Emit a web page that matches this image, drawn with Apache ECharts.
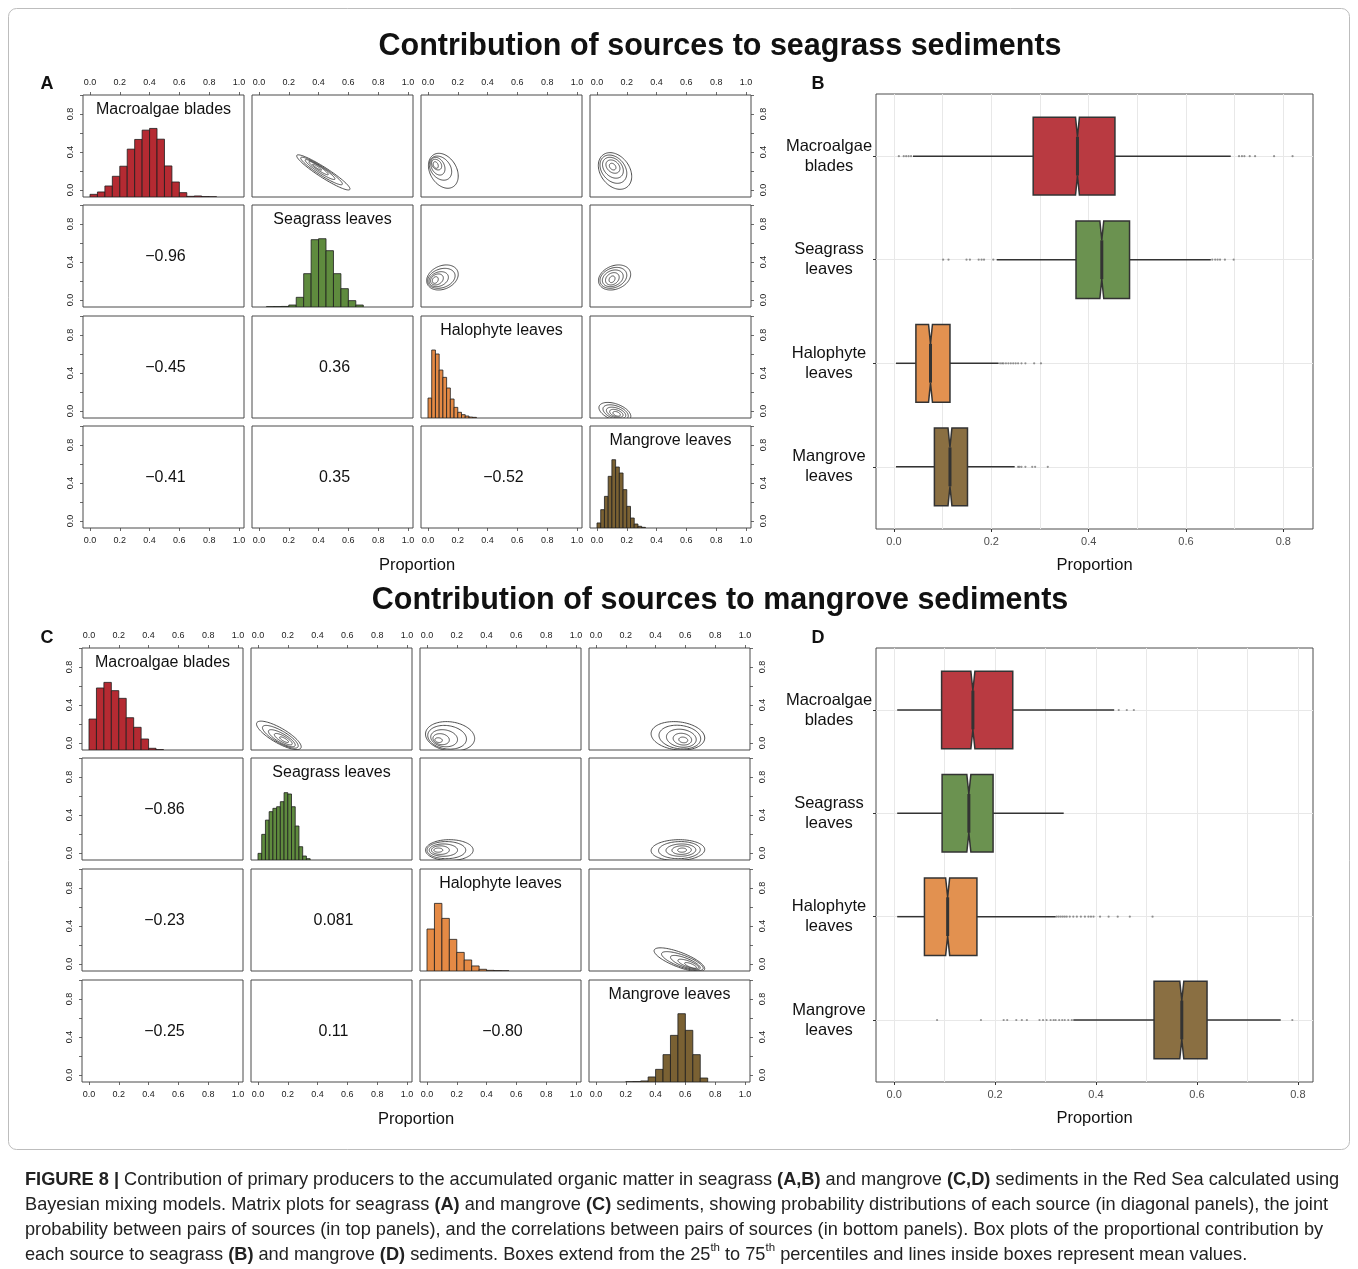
<!DOCTYPE html>
<html>
<head>
<meta charset="utf-8">
<script src="https://cdn.jsdelivr.net/npm/echarts@6/dist/echarts.min.js"></script>
<style>
  html, body { margin: 0; padding: 0; background: #fff; }
  #chart { width: 1358px; height: 1269px; }
</style>
</head>
<body>
<div id="chart"></div>
<script>
// ---- data ----
const sources = ['Macroalgae blades', 'Seagrass leaves', 'Halophyte leaves', 'Mangrove leaves'];
const boxLabels = ['Macroalgae\nblades', 'Seagrass\nleaves', 'Halophyte\nleaves', 'Mangrove\nleaves'];

// pairs of sources, in the order of the correlation values below
const pairs = [[0, 1], [0, 2], [0, 3], [1, 2], [1, 3], [2, 3]];
const corrA = [-0.96, -0.45, -0.41, 0.36, 0.35, -0.52];
const corrC = [-0.86, -0.23, -0.25, 0.081, 0.11, -0.80];
// visual tilt of the contour rings in the upper panels (same pair order)
const tiltA = [-0.94, -0.3, -0.3, 0.25, 0.25, -0.45];
const tiltC = [-0.8, -0.15, -0.15, 0.0, 0.05, -0.75];

// histograms (diagonal panels): first bin edge, bin width, bar heights
const histStartA = [0, 0.05, 0, 0];
const histWidthA = [0.05, 0.05, 0.025, 0.025];
const histA_macro = [0.028, 0.053, 0.116, 0.218, 0.324, 0.504, 0.606, 0.704, 0.722, 0.609, 0.327, 0.158, 0.046, 0.007, 0.011, 0.004, 0.002];
const histA_seagrass = [0.003, 0.004, 0.006, 0.021, 0.102, 0.351, 0.709, 0.719, 0.593, 0.351, 0.193, 0.067, 0.021];
const histA_halophyte = [0.21, 0.716, 0.674, 0.505, 0.428, 0.316, 0.2, 0.112, 0.06, 0.035, 0.021, 0.01, 0.007];
const histA_mangrove = [0.053, 0.193, 0.333, 0.544, 0.719, 0.642, 0.579, 0.404, 0.228, 0.105, 0.042, 0.018, 0.007];

const histStartC = [0, 0, 0, 0.2];
const histWidthC = [0.05, 0.025, 0.05, 0.05];
const histC_macro = [0.326, 0.653, 0.712, 0.625, 0.544, 0.34, 0.239, 0.116, 0.018, 0.004];
const histC_seagrass = [0.07, 0.27, 0.42, 0.509, 0.544, 0.561, 0.614, 0.709, 0.695, 0.561, 0.358, 0.14, 0.042, 0.014];
const histC_halophyte = [0.442, 0.712, 0.554, 0.333, 0.196, 0.116, 0.053, 0.018, 0.007, 0.004, 0.002];
const histC_mangrove = [0.002, 0.004, 0.011, 0.053, 0.133, 0.288, 0.491, 0.719, 0.544, 0.288, 0.042];

// joint-density contour rings (upper panels): [centre x, centre y, half width, half height]
const ringsA_01 = [[0.432, 0.185, 0.179, 0.185], [0.42, 0.2, 0.14, 0.145], [0.41, 0.215, 0.1, 0.105], [0.4, 0.23, 0.065, 0.07], [0.39, 0.24, 0.03, 0.032]];
const ringsA_02 = [[0.103, 0.202, 0.1, 0.184], [0.084, 0.23, 0.075, 0.127], [0.066, 0.25, 0.048, 0.093], [0.058, 0.267, 0.034, 0.056], [0.052, 0.263, 0.017, 0.035]];
const ringsA_03 = [[0.121, 0.2, 0.112, 0.193], [0.11, 0.219, 0.09, 0.149], [0.107, 0.234, 0.07, 0.11], [0.107, 0.246, 0.047, 0.07], [0.105, 0.246, 0.022, 0.035]];
const ringsA_12 = [[0.097, 0.237, 0.106, 0.132], [0.09, 0.228, 0.092, 0.105], [0.072, 0.219, 0.065, 0.079], [0.06, 0.216, 0.043, 0.058], [0.049, 0.21, 0.02, 0.035]];
const ringsA_13 = [[0.118, 0.237, 0.108, 0.132], [0.11, 0.233, 0.09, 0.11], [0.106, 0.228, 0.07, 0.088], [0.103, 0.223, 0.046, 0.065], [0.101, 0.218, 0.02, 0.035]];
const ringsA_23 = [[0.12, -0.01, 0.107, 0.1], [0.125, -0.015, 0.085, 0.08], [0.128, -0.02, 0.065, 0.06], [0.13, -0.025, 0.045, 0.042], [0.132, -0.03, 0.025, 0.025]];

const ringsC_01 = [[0.14, 0.08, 0.15, 0.15], [0.15, 0.065, 0.12, 0.12], [0.16, 0.05, 0.09, 0.09], [0.17, 0.04, 0.06, 0.06], [0.175, 0.035, 0.03, 0.03]];
const ringsC_02 = [[0.155, 0.07, 0.165, 0.155], [0.135, 0.06, 0.13, 0.125], [0.115, 0.05, 0.09, 0.09], [0.095, 0.04, 0.055, 0.058], [0.078, 0.03, 0.025, 0.025]];
const ringsC_03 = [[0.55, 0.075, 0.18, 0.15], [0.563, 0.062, 0.14, 0.125], [0.573, 0.05, 0.1, 0.095], [0.58, 0.04, 0.062, 0.062], [0.586, 0.032, 0.03, 0.03]];
const ringsC_12 = [[0.15, 0.03, 0.16, 0.11], [0.13, 0.03, 0.13, 0.09], [0.11, 0.03, 0.095, 0.065], [0.09, 0.03, 0.06, 0.045], [0.076, 0.03, 0.03, 0.022]];
const ringsC_13 = [[0.55, 0.03, 0.18, 0.11], [0.56, 0.03, 0.14, 0.09], [0.57, 0.03, 0.1, 0.065], [0.575, 0.03, 0.065, 0.045], [0.578, 0.03, 0.03, 0.022]];
const ringsC_23 = [[0.56, 0.045, 0.17, 0.125], [0.58, 0.03, 0.14, 0.1], [0.6, 0.015, 0.1, 0.075], [0.62, 0.0, 0.07, 0.05], [0.635, -0.015, 0.04, 0.03]];

// box plots: [category, whisker low, q1, median, q3, whisker high]
const boxB = [
  [1, 0.039, 0.286, 0.377, 0.454, 0.692],
  [2, 0.211, 0.374, 0.427, 0.484, 0.651],
  [3, 0.004, 0.045, 0.075, 0.115, 0.215],
  [4, 0.004, 0.083, 0.115, 0.151, 0.248]
];
const outB_macro = [0.01, 0.02, 0.025, 0.03, 0.035, 0.709, 0.715, 0.72, 0.731, 0.742, 0.781, 0.819];
const outB_seagrass = [0.101, 0.112, 0.149, 0.156, 0.174, 0.18, 0.185, 0.204, 0.654, 0.66, 0.665, 0.67, 0.68, 0.698];
const outB_halophyte = [0.218, 0.222, 0.225, 0.23, 0.235, 0.24, 0.245, 0.25, 0.255, 0.262, 0.27, 0.288, 0.302];
const outB_mangrove = [0.255, 0.258, 0.262, 0.27, 0.284, 0.29, 0.316];

const boxD = [
  [1, 0.006, 0.094, 0.156, 0.235, 0.436],
  [2, 0.006, 0.095, 0.148, 0.196, 0.336],
  [3, 0.006, 0.06, 0.106, 0.164, 0.32],
  [4, 0.355, 0.515, 0.57, 0.62, 0.766]
];
const outD_macro = [0.445, 0.461, 0.475];
const outD_seagrass = [];
const outD_halophyte = [0.322, 0.326, 0.33, 0.334, 0.338, 0.342, 0.348, 0.355, 0.362, 0.37, 0.378, 0.385, 0.39, 0.395, 0.408, 0.425, 0.443, 0.467, 0.512];
const outD_mangrove = [0.085, 0.172, 0.217, 0.224, 0.242, 0.253, 0.263, 0.288, 0.295, 0.302, 0.31, 0.316, 0.32, 0.327, 0.333, 0.338, 0.345, 0.352, 0.789];

const unitTicks = [0, 0.2, 0.4, 0.6, 0.8, 1.0];
const unitLabelsY = [0, 0.4, 0.8];
const boxTicks = [0, 0.2, 0.4, 0.6, 0.8];
const boxGrid = [0, 0.1, 0.2, 0.3, 0.4, 0.5, 0.6, 0.7, 0.8];

// ---- styling ----
const FONT = 'Liberation Sans, Arial, Helvetica, sans-serif';
const histColors = ['#b52a32', '#5f8b3e', '#e58a45', '#7a6133'];
const boxColors = ['#b93a41', '#6b9250', '#e29150', '#8a6f42'];
const PW = 161, PH = 102;
const X_MIN = -0.047, X_MAX = 1.034, Y_MIN = -0.074, Y_MAX = 1.0;
const NOTCH = 0.004;

const layouts = [
  { cols: [83, 252, 421, 590], rows: [95, 205, 316, 426],
    hists: [histA_macro, histA_seagrass, histA_halophyte, histA_mangrove],
    start: histStartA, width: histWidthA, corr: corrA, tilt: tiltA,
    rings: [ringsA_01, ringsA_02, ringsA_03, ringsA_12, ringsA_13, ringsA_23] },
  { cols: [82, 251, 420, 589], rows: [648, 758, 869, 980],
    hists: [histC_macro, histC_seagrass, histC_halophyte, histC_mangrove],
    start: histStartC, width: histWidthC, corr: corrC, tilt: tiltC,
    rings: [ringsC_01, ringsC_02, ringsC_03, ringsC_12, ringsC_13, ringsC_23] }
];

const grids = [], xAxes = [], yAxes = [], series = [], graphics = [];

function txt(x, y, text, size, extra) {
  graphics.push({
    type: 'text', x: x, y: y, silent: true,
    style: Object.assign({
      text: text, fontSize: size, fontFamily: FONT, fill: '#111',
      textAlign: 'center', textVerticalAlign: 'middle', align: 'center', verticalAlign: 'middle'
    }, extra || {})
  });
}

function pairIndex(a, b) {
  return pairs.findIndex(p => p[0] === a && p[1] === b);
}

function fmtCorr(v) {
  return v.toPrecision(2).replace('-', '\u2212');
}

function histSeries(xi, yi, start, width, heights, color) {
  return {
    type: 'custom', xAxisIndex: xi, yAxisIndex: yi, clip: true, z: 3, silent: true,
    data: heights.map((h, i) => [start + i * width, start + (i + 1) * width, h]),
    encode: { x: [0, 1], y: 2 },
    renderItem: function (params, api) {
      const a = api.coord([api.value(0), 0]);
      const b = api.coord([api.value(1), api.value(2)]);
      return {
        type: 'rect',
        shape: { x: a[0], y: b[1], width: b[0] - a[0], height: a[1] - b[1] },
        style: { fill: color, stroke: '#1e1e1e', lineWidth: 0.8 }
      };
    }
  };
}

function contourSeries(xi, yi, rings, rho) {
  const k = Math.sqrt(1 - rho * rho);
  return {
    type: 'custom', xAxisIndex: xi, yAxisIndex: yi, clip: true, z: 3, silent: true,
    data: rings, encode: { x: 0, y: 1 },
    renderItem: function (params, api) {
      const cx = api.value(0), cy = api.value(1), sx = api.value(2), sy = api.value(3);
      const pts = [];
      for (let i = 0; i < 90; i++) {
        const t = 2 * Math.PI * i / 90;
        pts.push(api.coord([cx + sx * Math.cos(t), cy + sy * (rho * Math.cos(t) + k * Math.sin(t))]));
      }
      return { type: 'polygon', shape: { points: pts }, style: { fill: 'none', stroke: '#3a3a3a', lineWidth: 0.9 } };
    }
  };
}

// ---- matrix plots A and C ----
layouts.forEach(function (m) {
  for (let r = 0; r < 4; r++) {
    for (let c = 0; c < 4; c++) {
      const L = m.cols[c], T = m.rows[r];
      const gi = grids.length;
      grids.push({ left: L, top: T, width: PW, height: PH, show: true, borderColor: '#4a4a4a', borderWidth: 1, backgroundColor: '#fff' });
      const xi = xAxes.length;
      xAxes.push({
        gridIndex: gi, type: 'value', min: X_MIN, max: X_MAX,
        show: r === 0 || r === 3, position: r === 0 ? 'top' : 'bottom',
        axisLine: { show: false, onZero: false }, splitLine: { show: false },
        axisTick: { show: true, customValues: unitTicks, length: 3, lineStyle: { color: '#444', width: 0.8 } },
        axisLabel: { customValues: unitTicks, formatter: v => v.toFixed(1), fontSize: 9, fontFamily: FONT, color: '#222', margin: 8 }
      });
      const yi = yAxes.length;
      yAxes.push({
        gridIndex: gi, type: 'value', min: Y_MIN, max: Y_MAX,
        show: c === 0 || c === 3, position: c === 0 ? 'left' : 'right',
        axisLine: { show: false, onZero: false }, splitLine: { show: false },
        axisTick: { show: true, customValues: unitTicks, length: 3, lineStyle: { color: '#444', width: 0.8 } },
        axisLabel: { customValues: unitLabelsY, formatter: v => v.toFixed(1), rotate: 90, fontSize: 9, fontFamily: FONT, color: '#222', margin: 8 }
      });

      if (r === c) {
        const hi = yAxes.length;
        yAxes.push({ gridIndex: gi, type: 'value', min: 0, max: Y_MAX - Y_MIN, show: false,
          axisLine: { show: false, onZero: false }, splitLine: { show: false } });
        series.push(histSeries(xi, hi, m.start[r], m.width[r], m.hists[r], histColors[r]));
        txt(L + PW / 2, T + 15, sources[r], 16);
      } else if (r < c) {
        const p = pairIndex(r, c);
        series.push(contourSeries(xi, yi, m.rings[p], m.tilt[p]));
      } else {
        const p = pairIndex(c, r);
        txt(L + PW / 2 + 2, T + PH / 2 + 1, fmtCorr(m.corr[p]), 16);
      }
    }
  }
  txt((m.cols[0] + m.cols[3] + PW) / 2, m.rows[3] + PH + 37, 'Proportion', 16.5);
});

// ---- box plots B and D ----
function addBoxPanel(top, height, xmin, xmax, stats, outs) {
  const gi = grids.length;
  grids.push({ left: 876, top: top, width: 437, height: height, show: true, borderColor: '#4d4d4d', borderWidth: 1, backgroundColor: '#fff' });
  const xi = xAxes.length, yi = yAxes.length;
  xAxes.push({
    gridIndex: gi, type: 'value', min: xmin, max: xmax, position: 'bottom',
    axisLine: { show: false, onZero: false }, splitLine: { show: false },
    axisTick: { show: true, customValues: boxTicks, length: 3, lineStyle: { color: '#333' } },
    axisLabel: { customValues: boxTicks, formatter: v => v.toFixed(1), fontSize: 11, fontFamily: FONT, color: '#4d4d4d', margin: 7 },
    name: 'Proportion', nameLocation: 'middle', nameGap: 28,
    nameTextStyle: { fontSize: 16.5, fontFamily: FONT, color: '#111' }
  });
  yAxes.push({
    gridIndex: gi, type: 'value', min: 0.4, max: 4.6, inverse: true,
    axisLine: { show: false, onZero: false }, splitLine: { show: false },
    axisTick: { show: true, customValues: [1, 2, 3, 4], length: 3, lineStyle: { color: '#333' } },
    axisLabel: { customValues: [1, 2, 3, 4], formatter: v => boxLabels[Math.round(v) - 1], fontSize: 16.5, lineHeight: 20,
      fontFamily: FONT, color: '#111', align: 'center', margin: 47 }
  });
  series.push({
    type: 'line', xAxisIndex: xi, yAxisIndex: yi, data: [], silent: true,
    markLine: {
      silent: true, z: 1, symbol: ['none', 'none'], label: { show: false }, animation: false,
      lineStyle: { color: '#e8e8e8', width: 1, type: 'solid' },
      data: boxGrid.map(v => ({ xAxis: v })).concat([1, 2, 3, 4].map(v => ({ yAxis: v })))
    }
  });
  series.push({
    type: 'custom', xAxisIndex: xi, yAxisIndex: yi, z: 4, silent: true,
    data: stats, encode: { x: [1, 2, 3, 4, 5], y: 0 },
    renderItem: function (params, api) {
      const cat = api.value(0);
      const lo = api.value(1), q1 = api.value(2), med = api.value(3), q3 = api.value(4), hi = api.value(5);
      const P = (v, d) => api.coord([v, cat + d]);
      const pts = [P(q1, -0.375), P(med - NOTCH, -0.375), P(med, -0.1875), P(med + NOTCH, -0.375), P(q3, -0.375),
        P(q3, 0.375), P(med + NOTCH, 0.375), P(med, 0.1875), P(med - NOTCH, 0.375), P(q1, 0.375)];
      const a = P(lo, 0), b = P(q1, 0), c = P(q3, 0), d = P(hi, 0), m0 = P(med, -0.1875), m1 = P(med, 0.1875);
      return {
        type: 'group', children: [
          { type: 'line', shape: { x1: a[0], y1: a[1], x2: b[0], y2: b[1] }, style: { stroke: '#333', lineWidth: 1.5 } },
          { type: 'line', shape: { x1: c[0], y1: c[1], x2: d[0], y2: d[1] }, style: { stroke: '#333', lineWidth: 1.5 } },
          { type: 'polygon', shape: { points: pts }, style: { fill: boxColors[params.dataIndex], stroke: '#333', lineWidth: 1.5 } },
          { type: 'line', shape: { x1: m0[0], y1: m0[1], x2: m1[0], y2: m1[1] }, style: { stroke: '#333', lineWidth: 3 } }
        ]
      };
    }
  });
  series.push({
    type: 'scatter', xAxisIndex: xi, yAxisIndex: yi, z: 5, silent: true, symbolSize: 2.2,
    itemStyle: { color: 'rgba(40,40,40,0.6)' },
    data: [].concat.apply([], outs.map((arr, i) => arr.map(v => [v, i + 1])))
  });
}
addBoxPanel(94, 435, -0.037, 0.861, boxB, [outB_macro, outB_seagrass, outB_halophyte, outB_mangrove]);
addBoxPanel(648, 434, -0.036, 0.83, boxD, [outD_macro, outD_seagrass, outD_halophyte, outD_mangrove]);

// ---- titles, letters, frame, caption ----
graphics.push({ type: 'rect', silent: true, z: -10, shape: { x: 8.5, y: 8.5, width: 1341, height: 1141, r: 8 },
  style: { fill: 'none', stroke: '#bdbdbd', lineWidth: 1 } });
txt(720, 47, 'Contribution of sources to seagrass sediments', 30.5, { fontWeight: 'bold' });
txt(720, 601, 'Contribution of sources to mangrove sediments', 30.5, { fontWeight: 'bold' });
txt(47, 84, 'A', 18, { fontWeight: 'bold' });
txt(818, 84, 'B', 18, { fontWeight: 'bold' });
txt(47, 638, 'C', 18, { fontWeight: 'bold' });
txt(818, 638, 'D', 18, { fontWeight: 'bold' });

const caption = [
  '{b|FIGURE 8 |} Contribution of primary producers to the accumulated organic matter in seagrass {b|(A,B)} and mangrove {b|(C,D)} sediments in the Red Sea calculated using',
  'Bayesian mixing models. Matrix plots for seagrass {b|(A)} and mangrove {b|(C)} sediments, showing probability distributions of each source (in diagonal panels), the joint',
  'probability between pairs of sources (in top panels), and the correlations between pairs of sources (in bottom panels). Box plots of the proportional contribution by',
  'each source to seagrass {b|(B)} and mangrove {b|(D)} sediments. Boxes extend from the 25{sup|th} to 75{sup|th} percentiles and lines inside boxes represent mean values.'
].join('\n');
graphics.push({
  type: 'text', x: 25, y: 1167, silent: true,
  style: {
    text: caption, fontSize: 18.2, fontFamily: FONT, fill: '#222', lineHeight: 25,
    textAlign: 'left', align: 'left', textVerticalAlign: 'top', verticalAlign: 'top',
    rich: {
      b: { fontSize: 18.2, fontFamily: FONT, fontWeight: 'bold', fill: '#222', lineHeight: 25 },
      sup: { fontSize: 11.5, fontFamily: FONT, fill: '#222', lineHeight: 18, verticalAlign: 'top' }
    }
  }
});

const chart = echarts.init(document.getElementById('chart'), null, { renderer: 'canvas' });
chart.setOption({
  animation: false,
  backgroundColor: '#fff',
  grid: grids, xAxis: xAxes, yAxis: yAxes, series: series,
  graphic: { elements: graphics }
});
</script>
</body>
</html>
